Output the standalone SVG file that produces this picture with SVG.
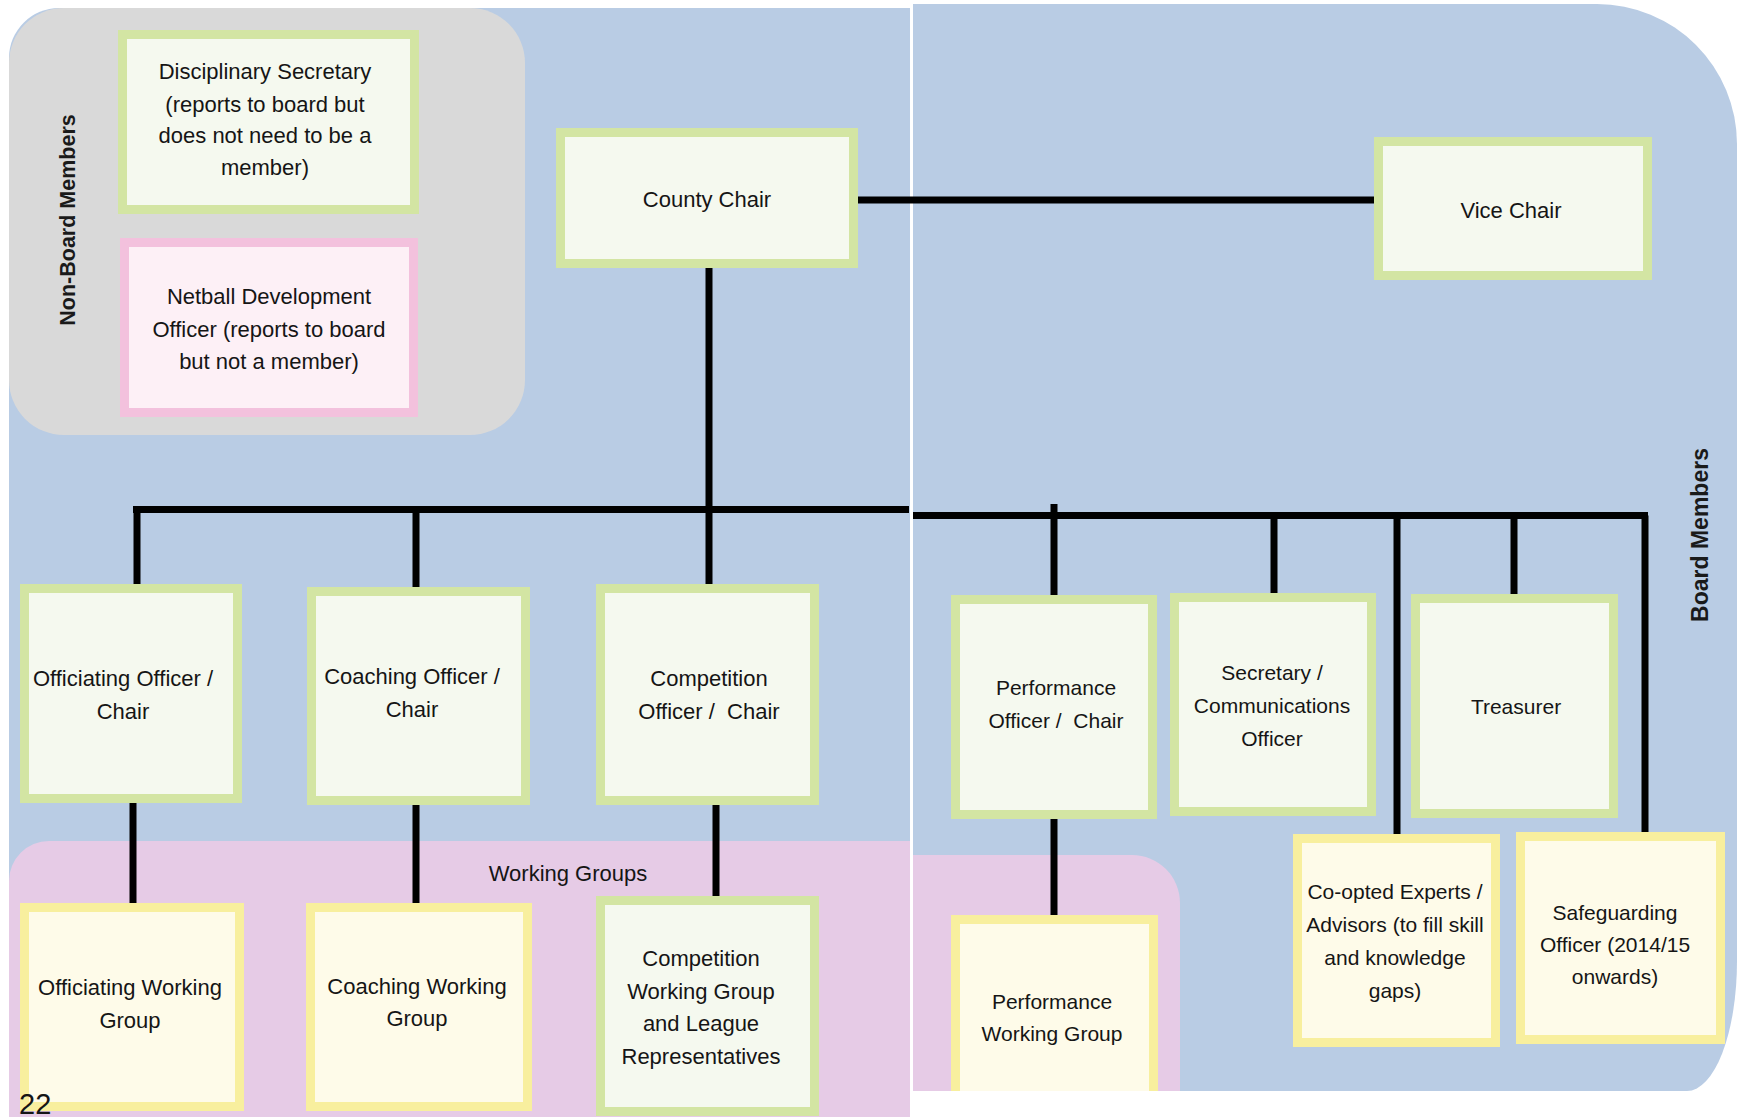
<svg xmlns="http://www.w3.org/2000/svg" width="1740" height="1117" viewBox="0 0 1740 1117">
<style>
.t{font-family:"Liberation Sans",Arial,sans-serif;font-size:22px;fill:#151515;text-anchor:middle;white-space:pre}
.r{font-size:21px}
.lbl{font-family:"Liberation Sans",Arial,sans-serif;font-weight:bold;fill:#1a1a1a;text-anchor:middle}
.g{fill:#f5f9ef;stroke:#d3e5a3;stroke-width:9}
.y{fill:#fefbe9;stroke:#f8ef9e;stroke-width:9}
.p{fill:#fdf0f6;stroke:#f3c1dd;stroke-width:9}
.c line{stroke:#000;stroke-width:7}
</style>
<rect width="1740" height="1117" fill="#ffffff"/>
<g id="background">
<path d="M9,58 A50,50 0 0 1 59,8 H910 V1117 H9 Z" fill="#b9cce4"/>
<path d="M913,4 H1597 A140,140 0 0 1 1737,144 V961 A50,130 0 0 1 1687,1091 H913 Z" fill="#b9cce4"/>
<path d="M9,881 A40,40 0 0 1 49,841 H910 V1117 H9 Z" fill="#e6cbe6"/>
<path d="M913,855 H1132 A48,48 0 0 1 1180,903 V1091 H913 Z" fill="#e6cbe6"/>
<rect id="non-board-area" x="9" y="8" width="516" height="427" rx="55" fill="#d9d9d9"/>
<text class="lbl" font-size="21.5" transform="translate(75,220) rotate(-90)">Non-Board Members</text>
<text class="lbl" font-size="23" transform="translate(1708,535) rotate(-90)">Board Members</text>
<text class="t" x="568" y="881">Working Groups</text>
</g>
<g id="connectors" class="c">
<line x1="858" y1="200" x2="1374" y2="200"/>
<line x1="709" y1="268" x2="709" y2="584"/>
<line x1="133" y1="509.5" x2="909" y2="509.5"/>
<line x1="137" y1="509.5" x2="137" y2="584"/>
<line x1="416" y1="509.5" x2="416" y2="587"/>
<line x1="913" y1="515.5" x2="1648" y2="515.5"/>
<line x1="1054" y1="504" x2="1054" y2="595"/>
<line x1="1274" y1="515.5" x2="1274" y2="593"/>
<line x1="1397" y1="515.5" x2="1397" y2="834"/>
<line x1="1514" y1="515.5" x2="1514" y2="594"/>
<line x1="1645" y1="515.5" x2="1645" y2="832"/>
<line x1="133" y1="803" x2="133" y2="903"/>
<line x1="416" y1="805" x2="416" y2="903"/>
<line x1="716" y1="805" x2="716" y2="896"/>
<line x1="1054" y1="819" x2="1054" y2="915"/>
</g>
<g id="disciplinary-secretary">
<rect class="g" x="122.5" y="34.5" width="292" height="175"/>
<text class="t" x="265" y="79">Disciplinary Secretary</text>
<text class="t" x="265" y="112">(reports to board but</text>
<text class="t" x="265" y="143">does not need to be a</text>
<text class="t" x="265" y="175">member)</text>
</g>
<g id="netball-development-officer">
<rect class="p" x="124.5" y="242.5" width="289" height="170"/>
<text class="t" x="269" y="304">Netball Development</text>
<text class="t" x="269" y="337">Officer (reports to board</text>
<text class="t" x="269" y="369">but not a member)</text>
</g>
<g id="county-chair">
<rect class="g" x="560.5" y="132.5" width="293" height="131"/>
<text class="t" x="707" y="207">County Chair</text>
</g>
<g id="vice-chair">
<rect class="g" x="1378.5" y="141.5" width="269" height="134"/>
<text class="t" x="1511" y="218">Vice Chair</text>
</g>
<g id="officiating-officer">
<rect class="g" x="24.5" y="588.5" width="213" height="210"/>
<text class="t" x="123" y="686">Officiating Officer /</text>
<text class="t" x="123" y="719">Chair</text>
</g>
<g id="coaching-officer">
<rect class="g" x="311.5" y="591.5" width="214" height="209"/>
<text class="t" x="412" y="684">Coaching Officer /</text>
<text class="t" x="412" y="717">Chair</text>
</g>
<g id="competition-officer">
<rect class="g" x="600.5" y="588.5" width="214" height="212"/>
<text class="t" x="709" y="686">Competition</text>
<text class="t" x="709" y="719">Officer /  Chair</text>
</g>
<g id="officiating-working-group">
<rect class="y" x="24.5" y="907.5" width="215" height="199"/>
<text class="t" x="130" y="995">Officiating Working</text>
<text class="t" x="130" y="1028">Group</text>
</g>
<g id="coaching-working-group">
<rect class="y" x="310.5" y="907.5" width="217" height="199"/>
<text class="t" x="417" y="994">Coaching Working</text>
<text class="t" x="417" y="1026">Group</text>
</g>
<g id="competition-working-group">
<rect class="g" x="600.5" y="900.5" width="214" height="211"/>
<text class="t" x="701" y="966">Competition</text>
<text class="t" x="701" y="999">Working Group</text>
<text class="t" x="701" y="1031">and League</text>
<text class="t" x="701" y="1064">Representatives</text>
</g>
<g id="performance-officer">
<rect class="g" x="955.5" y="599.5" width="197" height="215"/>
<text class="t r" x="1056" y="695">Performance</text>
<text class="t r" x="1056" y="728">Officer /  Chair</text>
</g>
<g id="secretary-communications-officer">
<rect class="g" x="1174.5" y="597.5" width="197" height="214"/>
<text class="t r" x="1272" y="680">Secretary /</text>
<text class="t r" x="1272" y="713">Communications</text>
<text class="t r" x="1272" y="746">Officer</text>
</g>
<g id="treasurer">
<rect class="g" x="1415.5" y="598.5" width="198" height="215"/>
<text class="t r" x="1516" y="714">Treasurer</text>
</g>
<g id="co-opted-experts">
<rect class="y" x="1297.5" y="838.5" width="198" height="204"/>
<text class="t r" x="1395" y="899">Co-opted Experts /</text>
<text class="t r" x="1395" y="932">Advisors (to fill skill</text>
<text class="t r" x="1395" y="965">and knowledge</text>
<text class="t r" x="1395" y="998">gaps)</text>
</g>
<g id="safeguarding-officer">
<rect class="y" x="1520.5" y="836.5" width="200" height="203"/>
<text class="t r" x="1615" y="920">Safeguarding</text>
<text class="t r" x="1615" y="952">Officer (2014/15</text>
<text class="t r" x="1615" y="984">onwards)</text>
</g>
<g id="performance-working-group">
<rect x="951" y="915" width="207" height="176" fill="#f8ef9e"/>
<rect x="960" y="924" width="189" height="167" fill="#fefbe9"/>
<text class="t r" x="1052" y="1009">Performance</text>
<text class="t r" x="1052" y="1041">Working Group</text>
</g>
<text id="page-number" x="19" y="1114" font-family="Liberation Sans,Arial,sans-serif" font-size="29" fill="#151515">22</text>
</svg>
